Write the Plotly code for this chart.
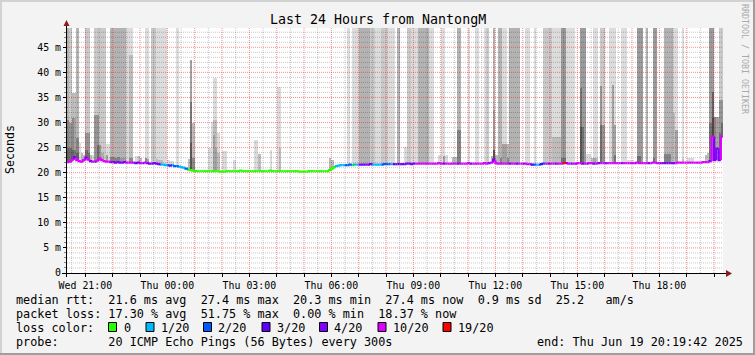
import plotly.graph_objects as go
import pandas as pd

# ---------------- data ----------------
START = "2025-06-18 20:19:42"
END = "2025-06-19 20:19:42"
FIRST_STEP = "2025-06-18 20:20:00"
Y_MAX = 48.85

# median rtt per 5-minute step (ms)
median_ms = [
    22.1,22.2,22.6,23.1,22.5,22.3,22.2,22.5,23.0,22.6,22.3,22.2,22.2,22.4,22.8,22.5,22.3,22.2,22.2,22.1,22.1,22.0,22.1,22.0,
    22.0,22.1,22.0,22.0,22.0,22.0,21.9,22.0,21.9,21.9,22.0,21.9,21.8,21.8,21.9,21.8,21.7,21.6,21.6,21.5,21.5,21.4,21.5,21.3,
    21.3,21.2,21.1,21.0,20.8,20.6,20.5,20.4,20.3,20.3,20.3,20.3,20.3,20.3,20.3,20.3,20.3,20.3,20.3,20.2,20.2,20.2,20.3,20.3,
    20.3,20.3,20.3,20.3,20.4,20.3,20.3,20.3,20.3,20.3,20.3,20.3,20.3,20.3,20.3,20.3,20.3,20.4,20.3,20.3,20.3,20.3,20.3,20.3,
    20.3,20.3,20.3,20.3,20.3,20.3,20.2,20.2,20.2,20.2,20.3,20.3,20.3,20.3,20.3,20.3,20.3,20.3,20.3,20.5,20.8,21.1,21.3,21.4,
    21.5,21.5,21.5,21.5,21.6,21.5,21.6,21.6,21.6,21.6,21.6,21.6,21.6,21.7,21.6,21.6,21.6,21.6,21.6,21.7,21.7,21.7,21.7,21.7,
    21.7,21.7,21.7,21.7,21.7,21.8,21.8,21.7,21.8,21.8,21.8,21.8,21.8,21.8,21.8,21.8,21.8,21.8,21.8,21.9,21.8,21.8,21.8,21.8,
    21.8,21.8,21.8,21.8,21.8,21.8,21.8,21.8,21.9,21.8,21.8,21.8,21.8,21.8,21.8,21.9,21.8,21.9,22.0,22.6,21.9,21.8,21.8,21.8,
    21.8,21.8,21.8,21.8,21.8,21.8,21.8,21.8,21.8,21.8,21.7,21.7,21.6,21.6,21.6,21.6,21.7,21.8,21.8,21.8,21.8,21.8,21.8,21.8,
    21.8,21.8,21.9,21.9,21.8,21.8,21.8,21.8,21.9,21.9,21.8,21.8,21.8,21.9,21.9,21.8,21.8,21.9,21.9,21.9,21.9,21.9,21.9,21.9,
    21.9,21.9,21.9,21.9,21.9,21.9,21.9,21.9,21.9,21.9,22.0,21.9,21.9,21.9,21.9,21.9,21.9,22.0,22.0,21.9,21.9,21.9,21.9,21.9,
    21.9,21.9,21.9,21.9,22.0,22.0,22.0,22.0,22.0,22.0,22.0,22.0,22.0,22.0,22.0,22.1,22.1,22.1,22.3,27.2,22.5,24.8,22.5,27.2,
]

# lost pings (of 20) per step, as legend class
loss_20 = [
    10,10,10,4,10,10,10,10,4,10,4,10,4,10,10,10,10,10,10,4,4,4,4,4,
    4,4,10,10,10,4,3,4,10,4,10,4,4,4,4,4,4,1,1,1,2,3,1,2,
    2,1,1,1,2,0,0,0,0,0,0,0,0,0,0,0,0,0,0,0,0,0,0,0,
    0,0,0,0,0,0,0,0,0,0,0,0,0,0,0,0,0,0,0,0,0,0,0,0,
    0,0,0,0,0,0,0,0,0,0,0,0,0,0,0,0,0,0,0,0,0,0,1,1,
    1,1,2,2,2,0,1,1,4,4,3,4,4,4,1,1,1,1,2,2,2,2,1,3,
    4,3,4,3,4,4,3,4,4,10,10,10,10,10,10,10,10,10,10,10,10,4,10,10,
    10,10,10,4,10,10,10,10,10,4,10,10,10,10,10,10,10,4,10,4,10,10,10,10,
    10,10,4,10,10,4,10,10,4,10,10,4,3,2,1,2,3,2,10,4,10,10,4,10,
    10,10,19,4,10,4,10,4,10,10,4,10,4,10,10,4,10,4,10,10,4,10,10,10,
    10,10,10,4,10,10,10,10,10,4,10,10,10,10,10,4,10,10,10,10,4,4,4,4,
    4,4,4,10,10,10,10,10,10,10,10,10,10,10,10,10,10,10,4,10,4,4,4,10,
]

# smoke that runs off the top of the graph: density 0 (none) .. 4 (dense)
smoke_full = [
    3,2,0,0,3,0,0,0,2,2,0,0,2,2,2,2,2,0,0,3,3,3,3,3,
    3,3,1,1,1,0,0,0,0,0,1,1,0,2,2,1,1,1,1,1,0,0,0,0,
    1,0,0,0,0,0,0,0,0,0,0,0,0,0,0,0,0,0,0,0,0,0,0,0,
    0,0,0,0,0,0,0,0,0,0,0,0,0,0,0,0,0,0,0,0,0,0,0,0,
    0,0,0,0,0,0,0,0,0,0,0,0,0,0,0,0,0,0,0,0,0,0,0,0,
    0,0,0,1,0,1,1,1,3,3,3,3,3,2,2,1,1,1,2,2,2,1,1,1,
    0,3,0,0,0,2,2,1,1,1,3,3,3,3,3,1,1,0,0,0,1,1,0,0,
    0,0,0,3,3,0,0,0,1,0,0,1,1,0,0,1,2,0,0,3,0,3,3,1,
    1,0,3,3,3,3,3,0,0,1,1,0,0,1,0,0,0,2,2,2,2,1,1,1,
    1,4,4,1,1,1,1,0,0,4,4,4,0,0,0,1,1,0,2,2,0,0,1,1,
    1,0,0,1,1,1,0,0,0,0,4,4,4,0,3,0,0,4,4,0,0,0,3,3,
    3,3,1,1,0,0,1,0,0,0,0,0,0,0,0,0,0,0,4,4,0,0,2,2,
]

# smoke inside the graph: step index, top of smoke band (ms), band depth
peak_step = [0,0,1,1,2,3,2,3,2,3,4,4,5,6,7,8,9,8,9,10,11,12,13,13,14,15,17,18,17,
             19,20,21,22,23,24,25,27,28,27,28,30,31,32,34,35,39,40,41,44,45,46,
             53,54,54,54,55,55,62,63,64,64,64,65,65,65,66,66,68,69,73,82,83,84,89,92,93,93,
             115,116,148,163,165,166,169,170,171,172,186,187,187,188,190,191,192,193,193,
             213,214,215,216,217,218,225,225,226,228,229,230,231,232,234,234,235,239,240,240,
             246,247,248,250,251,257,262,263,264,266,267,270,272,273,274,280,281,282,283,283,
             284,285,286,286,287,287]
peak_top = [30.5,25.0,30.0,25.0,35.8,35.8,31.0,31.0,24.5,24.5,27.0,24.0,26.0,24.0,23.5,28.0,28.0,24.5,24.0,23.5,23.5,31.5,31.5,25.5,25.5,24.0,25.8,25.8,23.5,
            23.2,23.2,23.0,23.2,23.0,23.0,23.0,43.4,43.4,23.0,23.0,23.3,23.3,23.0,23.0,22.8,22.8,22.6,22.6,22.5,22.4,22.4,
            22.8,42.4,34.0,26.0,30.0,23.0,25.0,30.1,38.8,30.5,27.5,38.8,30.5,25.0,27.9,24.0,24.4,24.4,22.6,26.5,26.5,23.8,24.5,37.1,37.1,25.0,
            22.9,22.5,25.2,23.5,23.3,23.5,23.2,23.2,28.5,28.5,23.3,32.5,24.5,23.5,23.0,25.8,25.8,25.8,23.0,
            27.2,27.2,27.2,27.2,23.0,23.0,36.8,29.2,29.2,23.8,23.8,23.0,23.0,23.0,37.3,29.5,29.5,37.5,29.5,23.5,
            22.5,22.5,22.5,23.3,23.3,23.0,23.8,23.8,23.8,32.0,28.5,22.8,23.0,23.0,23.0,23.5,24.0,30.0,36.1,31.0,
            31.1,31.1,34.5,28.0,34.5,30.0]
peak_depth = [2,2,2,2,2,2,2,1,2,2,2,2,1,2,2,2,2,2,2,2,1,2,2,2,2,1,1,1,2,
              2,2,2,2,1,1,1,1,1,2,2,1,2,2,3,2,1,1,1,1,1,1,
              2,3,2,2,2,2,1,1,1,1,1,1,1,1,1,1,1,1,1,1,1,2,1,1,1,1,
              2,2,1,1,2,1,2,2,2,2,2,1,4,2,2,2,2,2,2,
              1,1,1,1,2,2,2,2,2,1,1,2,2,1,2,2,2,2,2,2,
              1,1,1,2,2,2,2,2,2,1,2,1,1,1,1,2,2,2,3,2,
              4,3,2,2,2,2]

X_TICK_TIMES = ["2025-06-18 21:00", "2025-06-19 00:00", "2025-06-19 03:00", "2025-06-19 06:00",
                "2025-06-19 09:00", "2025-06-19 12:00", "2025-06-19 15:00", "2025-06-19 18:00"]
X_TICK_LABELS = ["Wed 21:00", "Thu 00:00", "Thu 03:00", "Thu 06:00",
                 "Thu 09:00", "Thu 12:00", "Thu 15:00", "Thu 18:00"]
Y_TICK_VALUES = [0, 5, 10, 15, 20, 25, 30, 35, 40, 45]
Y_TICK_LABELS = ["0", "5 m", "10 m", "15 m", "20 m", "25 m", "30 m", "35 m", "40 m", "45 m"]

LOSS_LEVELS = [0, 1, 2, 3, 4, 10, 19]
LOSS_LABELS = ["0", "1/20", "2/20", "3/20", "4/20", "10/20", "19/20"]
LOSS_COLORS = ["#26ff00", "#00b8ff", "#0059ff", "#5e00ff", "#7e00ff", "#dd00ff", "#ff0000"]

TITLE = "Last 24 Hours from NantongM"
LINE_RTT = "median rtt:  21.6 ms avg  27.4 ms max  20.3 ms min  27.4 ms now  0.9 ms sd  25.2   am/s"
LINE_LOSS = "packet loss: 17.30 % avg  51.75 % max  0.00 % min  18.37 % now"
LINE_COLOR = "loss color:"
LINE_PROBE = "probe:       20 ICMP Echo Pings (56 Bytes) every 300s"
LINE_END = "end: Thu Jun 19 20:19:42 2025"

assert len(median_ms) == len(loss_20) == len(smoke_full) == 288
assert len(peak_step) == len(peak_top) == len(peak_depth)

# ---------------- geometry helpers (pixel -> paper) ----------------
W, H = 755, 355
PL, PR, PT, PB = 67, 723, 28, 273


def px(x):
    return (x - PL) / (PR - PL)


def py(y):
    return (PB - y) / (PB - PT)


def nb(s):
    return s.replace(" ", "\u00a0")


MONO = "DejaVu Sans Mono"
FULL_GREY = {1: "#dcdcdc", 2: "#c9c9c9", 3: "#b3b3b3", 4: "#9b9b9b"}

t_start = pd.Timestamp(START)
t_end = pd.Timestamp(END)
step_td = pd.Timedelta(minutes=5)
steps = list(pd.date_range(FIRST_STEP, periods=len(median_ms), freq="5min"))
centers = [s + step_td / 2 for s in steps]
BAR_W = step_td.total_seconds() * 1000

fig = go.Figure()

# full-height smoke
idx = [i for i, s in enumerate(smoke_full) if s > 0]
fig.add_trace(go.Bar(
    x=[centers[i] for i in idx],
    base=[median_ms[i] for i in idx],
    y=[Y_MAX + 1 - median_ms[i] for i in idx],
    width=BAR_W,
    marker=dict(color=[FULL_GREY[smoke_full[i]] for i in idx], line=dict(width=0)),
    hoverinfo="skip", showlegend=False))

# partial smoke
pk = [k for k in range(len(peak_step)) if peak_top[k] > median_ms[peak_step[k]]]
fig.add_trace(go.Bar(
    x=[centers[peak_step[k]] for k in pk],
    base=[median_ms[peak_step[k]] for k in pk],
    y=[peak_top[k] - median_ms[peak_step[k]] for k in pk],
    width=BAR_W,
    marker=dict(color=["rgba(0,0,0,%.3f)" % (1 - 0.86 ** peak_depth[k]) for k in pk],
                line=dict(width=0)),
    hoverinfo="skip", showlegend=False))

# grid (drawn over the smoke, like rrdtool)
grid_times = list(pd.date_range("2025-06-18 20:30", "2025-06-19 20:00", freq="30min"))
hour_lines = [t for t in grid_times if t.minute == 0]
half_lines = [t for t in grid_times if t.minute == 30]
minor_y = [v for v in range(1, 49) if v % 5 != 0]
major_y = [v for v in range(5, 49, 5)]


def vseg(ts):
    xs, ys = [], []
    for t in ts:
        xs += [t, t, None]
        ys += [0, Y_MAX, None]
    return xs, ys


def hseg(vals):
    xs, ys = [], []
    for v in vals:
        xs += [t_start, t_end, None]
        ys += [v, v, None]
    return xs, ys


for segs, col in [(vseg(half_lines), "rgba(0,0,0,0.22)"), (hseg(minor_y), "rgba(0,0,0,0.22)"),
                  (vseg(hour_lines), "rgba(235,30,30,0.5)"), (hseg(major_y), "rgba(235,30,30,0.5)")]:
    fig.add_trace(go.Scatter(x=segs[0], y=segs[1], mode="lines",
                             line=dict(color=col, width=1, dash="1px,1px"),
                             hoverinfo="skip", showlegend=False))

# median line coloured by loss
for lvl, col in zip(LOSS_LEVELS, LOSS_COLORS):
    xs, ys = [], []
    for i, (m, l) in enumerate(zip(median_ms, loss_20)):
        if l != lvl:
            continue
        prev = median_ms[i - 1] if i > 0 else m
        xs += [steps[i], steps[i], steps[i] + step_td, None]
        ys += [prev, m, m, None]
    if xs:
        fig.add_trace(go.Scatter(x=xs, y=ys, mode="lines", line=dict(color=col, width=2.2),
                                 hoverinfo="skip", showlegend=False))

hour_ticks = [t for t in hour_lines]
tick_text = []
for t in hour_ticks:
    key = t.strftime("%Y-%m-%d %H:%M")
    tick_text.append(X_TICK_LABELS[X_TICK_TIMES.index(key)] if key in X_TICK_TIMES else "")

shapes = []
# frame of the image
shapes += [
    dict(type="rect", xref="paper", yref="paper", x0=px(0), x1=px(W), y0=py(0), y1=py(2),
         fillcolor="#d2d2d2", line=dict(width=0), layer="above"),
    dict(type="rect", xref="paper", yref="paper", x0=px(0), x1=px(2), y0=py(0), y1=py(H),
         fillcolor="#d2d2d2", line=dict(width=0), layer="above"),
    dict(type="rect", xref="paper", yref="paper", x0=px(W - 2), x1=px(W), y0=py(0), y1=py(H),
         fillcolor="#9e9e9e", line=dict(width=0), layer="above"),
    dict(type="rect", xref="paper", yref="paper", x0=px(0), x1=px(W), y0=py(H - 2), y1=py(H),
         fillcolor="#9e9e9e", line=dict(width=0), layer="above"),
]
# axes with arrows
shapes += [
    dict(type="line", xref="paper", yref="paper", x0=px(62), x1=px(727), y0=py(273.5), y1=py(273.5),
         line=dict(color="#000000", width=1), layer="above"),
    dict(type="line", xref="paper", yref="paper", x0=px(66.5), x1=px(66.5), y0=py(277), y1=py(24),
         line=dict(color="#000000", width=1), layer="above"),
    dict(type="path", xref="paper", yref="paper",
         path="M %f %f L %f %f L %f %f Z" % (px(726), py(270), px(726), py(277), px(732), py(273.5)),
         fillcolor="#8e1b1b", line=dict(width=0), layer="above"),
    dict(type="path", xref="paper", yref="paper",
         path="M %f %f L %f %f L %f %f Z" % (px(63.5), py(26), px(69.5), py(26), px(66.5), py(20)),
         fillcolor="#8e1b1b", line=dict(width=0), layer="above"),
]

annotations = [
    dict(text=nb(TITLE), x=px(377.5), y=py(19.5), xanchor="center", yanchor="middle",
         font=dict(family=MONO, size=13.3, color="#000")),
    dict(text="Seconds", x=px(10), y=py(150), xanchor="center", yanchor="middle", textangle=-90,
         font=dict(family=MONO, size=11.6, color="#000")),
    dict(text=nb("RRDTOOL / TOBI OETIKER"), x=px(745), y=py(59), xanchor="center", yanchor="middle",
         textangle=90, font=dict(family=MONO, size=8.3, color="#aaaaaa")),
]
for txt, yy in [(LINE_RTT, 300), (LINE_LOSS, 314), (LINE_COLOR, 328), (LINE_PROBE, 342)]:
    annotations.append(dict(text=nb(txt), x=px(15), y=py(yy), xanchor="left", yanchor="middle",
                            font=dict(family=MONO, size=11.8, color="#000")))
annotations.append(dict(text=nb(LINE_END), x=px(535.5), y=py(342), xanchor="left", yanchor="middle",
                        font=dict(family=MONO, size=11.8, color="#000")))

SQUARE_X = [108.5, 146, 203.5, 262, 319.5, 378, 443]
LABEL_X = [122.5, 160, 217, 275.5, 333, 391.5, 456.5]
for sx, lx, lab, col in zip(SQUARE_X, LABEL_X, LOSS_LABELS, LOSS_COLORS):
    shapes.append(dict(type="rect", xref="paper", yref="paper", x0=px(sx), x1=px(sx + 8),
                       y0=py(331.5), y1=py(322.5), fillcolor=col, line=dict(color="#000", width=1),
                       layer="above"))
    annotations.append(dict(text=nb(lab), x=px(lx), y=py(328), xanchor="left", yanchor="middle",
                            font=dict(family=MONO, size=11.8, color="#000")))

for a in annotations:
    a.update(xref="paper", yref="paper", showarrow=False, borderpad=0)

fig.update_layout(
    width=W, height=H,
    margin=dict(l=PL, r=W - PR, t=PT, b=H - PB, pad=0),
    paper_bgcolor="#f3f3f3", plot_bgcolor="#ffffff",
    barmode="overlay", bargap=0, showlegend=False,
    font=dict(family=MONO, size=11.8, color="#000"),
    shapes=shapes, annotations=annotations,
    xaxis=dict(type="date", range=[t_start, t_end], tickmode="array", tickvals=hour_ticks,
               ticktext=tick_text, ticks="outside", ticklen=3, tickwidth=1, tickcolor="#000",
               tickfont=dict(family=MONO, size=9.9, color="#000"), showgrid=False,
               zeroline=False, showline=False, fixedrange=True),
    yaxis=dict(range=[0, Y_MAX], tickmode="array", tickvals=Y_TICK_VALUES, ticktext=Y_TICK_LABELS,
               ticks="outside", ticklen=3, tickwidth=1, tickcolor="#000",
               tickfont=dict(family=MONO, size=9.9, color="#000"), showgrid=False,
               zeroline=False, showline=False, fixedrange=True,
               minor=dict(ticks="outside", ticklen=2, dtick=1, tickcolor="#888888", showgrid=False)),
)

fig.write_html("out.html")
